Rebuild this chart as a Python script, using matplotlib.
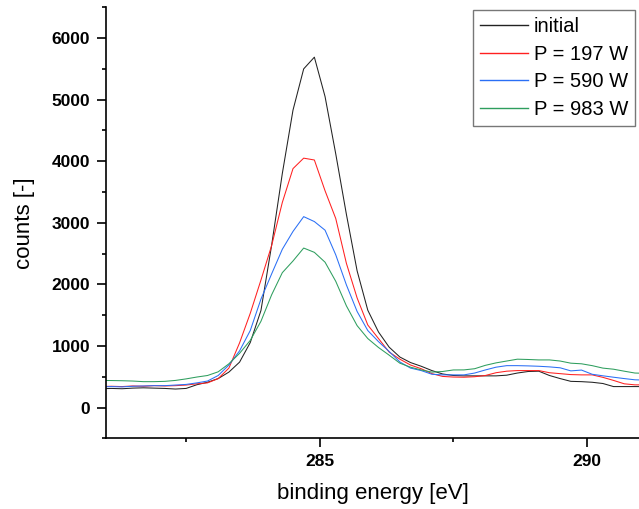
import matplotlib
matplotlib.use("Agg")
import matplotlib.pyplot as plt
from matplotlib.ticker import MultipleLocator

plt.rcParams['font.family'] = ['Liberation Sans', 'DejaVu Sans']

# binding energy grid [eV]
energy = [280.9 + 0.2 * i for i in range(52)]

initial = [305, 310, 305, 315, 320, 315, 310, 300, 310, 370,
           410, 470, 575, 737, 1055, 1575, 2635, 3800, 4830, 5500,
           5690, 5050, 4120, 3135, 2220, 1580, 1227, 980, 820, 730,
           670, 600, 545, 520, 514, 514, 514, 514, 525, 560,
           585, 590, 520, 470, 425, 420, 410, 390, 340, 340,
           340, 340]

p197 = [340, 345, 340, 350, 345, 355, 350, 355, 365, 385,
        400, 470, 640, 1050, 1530, 2070, 2630, 3330, 3880, 4050,
        4020, 3520, 3070, 2340, 1780, 1340, 1120, 900, 785, 690,
        630, 550, 505, 495, 492, 500, 520, 565, 590, 600,
        600, 600, 565, 550, 535, 530, 530, 490, 440, 385,
        368, 368]

p590 = [335, 340, 335, 345, 350, 355, 355, 365, 375, 400,
        430, 520, 690, 920, 1250, 1760, 2170, 2570, 2860, 3100,
        3020, 2880, 2480, 1990, 1560, 1250, 1070, 910, 740, 640,
        600, 540, 530, 530, 530, 560, 610, 655, 680, 680,
        676, 670, 660, 645, 595, 608, 540, 515, 492, 470,
        450, 445]

p983 = [440, 438, 435, 430, 420, 420, 425, 440, 465, 495,
        520, 580, 710, 880, 1090, 1400, 1830, 2190, 2380, 2590,
        2520, 2360, 2050, 1650, 1330, 1120, 975, 850, 720, 655,
        610, 575, 585, 610, 611, 630, 685, 725, 755, 785,
        780, 773, 773, 755, 720, 710, 680, 640, 622, 590,
        560, 555]

labels = ['initial', 'P = 197 W', 'P = 590 W', 'P = 983 W']
colors = ['#222222', '#ff2020', '#2a6ff5', '#2e9e5e']
series = [initial, p197, p590, p983]

W, H = 639, 509
fig = plt.figure(figsize=(W / 100, H / 100), dpi=100)
ax = fig.add_axes([106 / W, 1 - 438.3 / H, 1 - 106 / W + 0.002, (438.3 - 7.3) / H])

for ys, lab, c in zip(series, labels, colors):
    ax.plot(energy, ys, color=c, lw=0.75, label=lab)

ax.set_xlim(281, 291)
ax.set_ylim(-500, 6500)
ax.xaxis.set_major_locator(MultipleLocator(5))
ax.xaxis.set_minor_locator(MultipleLocator(2.5))
ax.yaxis.set_major_locator(MultipleLocator(1000))
ax.yaxis.set_minor_locator(MultipleLocator(500))

for s in ['top', 'right']:
    ax.spines[s].set_visible(False)
for s in ['left', 'bottom']:
    ax.spines[s].set_linewidth(1.2)

ax.tick_params(which='major', direction='out', length=6.5, width=1.2, pad=5,
               labelsize=12.5)
ax.tick_params(which='minor', direction='out', length=3.2, width=1.2)
for t in ax.get_xticklabels() + ax.get_yticklabels():
    t.set_fontweight('bold')

ax.set_xlabel('binding energy [eV]', fontsize=16, labelpad=10)
ax.set_ylabel('counts [-]', fontsize=16, labelpad=12)

leg = ax.legend(loc='upper left', bbox_to_anchor=(473 / W, 1 - 10 / H),
                bbox_transform=fig.transFigure, fontsize=14.5, frameon=True,
                fancybox=False, borderaxespad=0, borderpad=0.36,
                labelspacing=0.42, handlelength=2.35, handletextpad=0.3)
leg.get_frame().set_edgecolor('#555555')
leg.get_frame().set_linewidth(1.0)
for l in leg.get_lines():
    l.set_linewidth(1.0)

fig.savefig('out.png', dpi=100)
